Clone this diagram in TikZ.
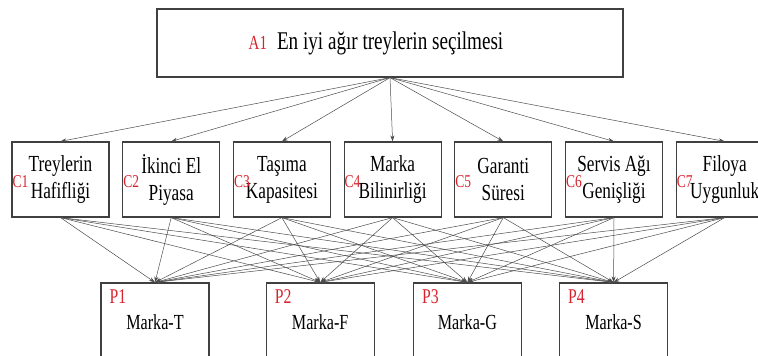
\documentclass[tikz,border=0pt]{standalone}
\usepackage{fontspec}
\setmainfont{Liberation Serif}[FakeStretch=0.75]
\usetikzlibrary{positioning,arrows.meta}
\definecolor{tagred}{RGB}{215,35,45}

\begin{document}
\begin{tikzpicture}[
    node distance=12.5pt,
    goal/.style={
        draw=black!75,
        line width=1.2pt,
        rectangle,
        minimum width=466pt,
        minimum height=68pt,
        font=\fontsize{25.5}{30}\selectfont
    },
    crit/.style={
        draw=black!75,
        line width=1.2pt,
        rectangle,
        minimum width=97pt,
        minimum height=75pt,
        inner sep=2pt,
        align=center,
        font=\fontsize{23}{27}\selectfont
    },
    alt/.style={
        draw=black!75,
        line width=1.2pt,
        rectangle,
        minimum width=108pt,
        minimum height=78pt,
        font=\fontsize{21.5}{24}\selectfont
    },
    clabel/.style={
        anchor=west,
        inner sep=1pt,
        yshift=-2.5pt,
        text=tagred,
        font=\fontsize{18}{18}\selectfont
    },
    plabel/.style={
        anchor=north west,
        inner sep=1pt,
        xshift=8pt,
        yshift=-6pt,
        text=tagred,
        font=\fontsize{21}{21}\selectfont
    },
    arrow/.style={
        -{Stealth[length=6pt,width=4pt]},
        draw=black!70,
        line width=0.5pt
    }
]

\useasboundingbox (0,0) rectangle (758pt,-356pt);

% Goal
\node[goal] (a1) at (390pt,-43pt) {{\color{tagred}\fontsize{20}{20}\selectfont A1}\hspace{10pt}En iyi ağır treylerin seçilmesi\hspace{28pt}\null};

% Criteria row
\node[crit, label={[clabel]west:C1}] (c1) at (60.5pt,-179.5pt) {Treylerin\\Hafifliği};
\node[crit, label={[clabel]west:C2}, right=of c1] (c2) {İkinci El\\Piyasa};
\node[crit, label={[clabel]west:C3}, right=of c2] (c3) {Taşıma\\Kapasitesi};
\node[crit, label={[clabel]west:C4}, right=of c3] (c4) {Marka\\Bilinirliği};
\node[crit, label={[clabel]west:C5}, right=of c4] (c5) {Garanti\\Süresi};
\node[crit, label={[clabel]west:C6}, right=of c5] (c6) {Servis Ağı\\Genişliği};
\node[crit, label={[clabel]west:C7}, right=of c6] (c7) {Filoya\\Uygunluk};

% Alternatives row
\node[alt, label={[plabel]north west:P1}] (p1) at (155pt,-322pt) {Marka-T};
\node[alt, label={[plabel]north west:P2}, right=56pt of p1] (p2) {Marka-F};
\node[alt, label={[plabel]north west:P3}, right=38pt of p2] (p3) {Marka-G};
\node[alt, label={[plabel]north west:P4}, right=37pt of p3] (p4) {Marka-S};

% Goal to criteria
\draw (a1.south) edge[arrow] (c1.north) edge[arrow] (c2.north) edge[arrow] (c3.north)
    edge[arrow] (c4.north) edge[arrow] (c5.north) edge[arrow] (c6.north) edge[arrow] (c7.north);

% Criteria to alternatives
\draw (c1.south) edge[arrow] (p1.north) edge[arrow] (p2.north) edge[arrow] (p3.north) edge[arrow] (p4.north);
\draw (c2.south) edge[arrow] (p1.north) edge[arrow] (p2.north) edge[arrow] (p3.north) edge[arrow] (p4.north);
\draw (c3.south) edge[arrow] (p1.north) edge[arrow] (p2.north) edge[arrow] (p3.north) edge[arrow] (p4.north);
\draw (c4.south) edge[arrow] (p1.north) edge[arrow] (p2.north) edge[arrow] (p3.north) edge[arrow] (p4.north);
\draw (c5.south) edge[arrow] (p1.north) edge[arrow] (p2.north) edge[arrow] (p3.north) edge[arrow] (p4.north);
\draw (c6.south) edge[arrow] (p1.north) edge[arrow] (p2.north) edge[arrow] (p3.north) edge[arrow] (p4.north);
\draw (c7.south) edge[arrow] (p1.north) edge[arrow] (p2.north) edge[arrow] (p3.north) edge[arrow] (p4.north);

\end{tikzpicture}
\end{document}
